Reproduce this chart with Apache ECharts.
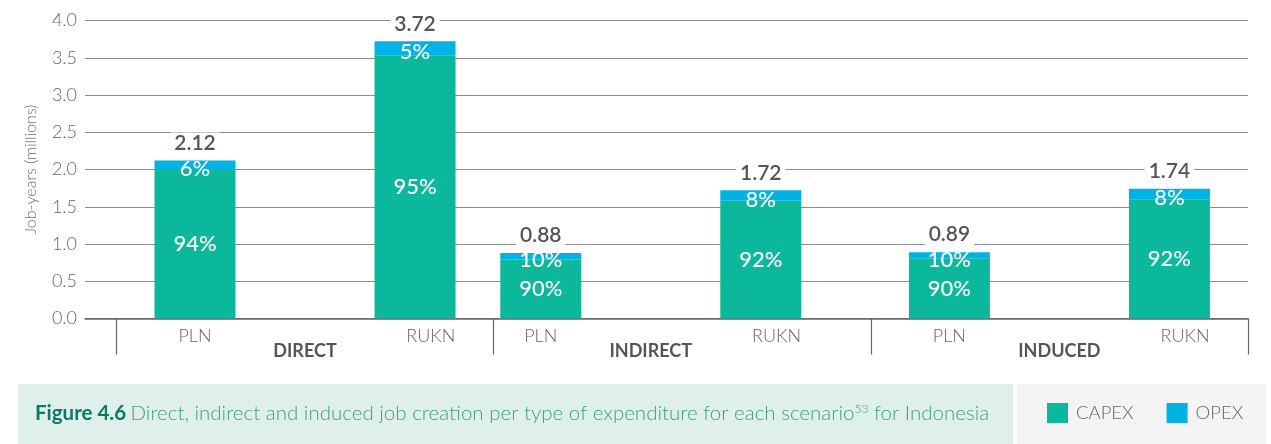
<!DOCTYPE html>
<html><head><meta charset="utf-8">
<script src="https://cdn.jsdelivr.net/npm/echarts@6/dist/echarts.min.js"></script>
<style>html,body{margin:0;padding:0;background:#fff}#c{width:1271px;height:444px}</style>
</head><body><div id="c"></div>
<script>
// ---- data ----
const scenarios = ['PLN', 'RUKN', 'PLN', 'RUKN', 'PLN', 'RUKN'];
const groups = ['DIRECT', 'INDIRECT', 'INDUCED'];
const capexValues = [1.993, 3.534, 0.792, 1.582, 0.801, 1.601];
const opexValues = [0.127, 0.186, 0.088, 0.138, 0.089, 0.139];
const totals = [2.12, 3.72, 0.88, 1.72, 0.89, 1.74];
const capexShare = ['94%', '95%', '90%', '92%', '90%', '92%'];
const opexShare = ['6%', '5%', '10%', '8%', '10%', '8%'];
const seriesNames = ['CAPEX', 'OPEX'];
const yAxisTitle = 'Job-years (millions)';

// ---- layout (slot positions on a fine category axis) ----
const SLOTS = 37;
const BAR_SLOT = [3, 10, 14, 21, 27, 34];
const GROUP_START_SLOT = [1, 13, 25];
const SHIFTED_LABEL_SLOT = [null, 10, null, 21, null, 34];
const GROUP_LABEL_SLOT = [6, 17, 30];

const FONT = 'Lato, "Noto Sans", sans-serif';
function blanks() { return new Array(SLOTS).fill(''); }
function spread(vals) { const a = new Array(SLOTS).fill('-'); BAR_SLOT.forEach((s, i) => a[s] = vals[i]); return a; }
function barIdx(p) { return BAR_SLOT.indexOf(p.dataIndex); }

const catA = blanks();
BAR_SLOT.forEach((s, i) => { if (SHIFTED_LABEL_SLOT[i] === null) catA[s] = scenarios[i]; });
const catB = blanks();
SHIFTED_LABEL_SLOT.forEach((s, i) => { if (s !== null) catB[s] = scenarios[i]; });
const catG = blanks();
GROUP_LABEL_SLOT.forEach((s, i) => catG[s] = groups[i]);

const chart = echarts.init(document.getElementById('c'), null, { renderer: 'canvas' });
const pctLabel = {
  show: true, color: '#fff', fontSize: 22, fontFamily: FONT, fontWeight: 500
};
chart.setOption({
  animation: false,
  textStyle: { fontFamily: FONT },
  graphic: [
    { type: 'rect', left: 18, top: 384, shape: { width: 995, height: 60 }, style: { fill: '#dff0eb' }, silent: true, z: -10 },
    { type: 'rect', left: 1017, top: 384, shape: { width: 249, height: 60 }, style: { fill: '#f4f4f4' }, silent: true, z: -10 }
  ],
  title: {
    left: 35, top: 400, padding: 0,
    text: '{b|Figure 4.6} {r|Direct, indirect and induced job creation per type of expenditure for each scenario}{s|53}{r| for Indonesia}',
    textStyle: {
      rich: {
        b: { fontFamily: FONT, fontWeight: 'bold', fontSize: 20.5, color: '#0b7a62', lineHeight: 26 },
        r: { fontFamily: FONT, fontWeight: 300, fontSize: 20.5, color: '#3f9c86', lineHeight: 26 },
        s: { fontFamily: FONT, fontWeight: 300, fontSize: 12, color: '#3f9c86', lineHeight: 26, verticalAlign: 'top', padding: [3, 0, 0, 0] }
      }
    }
  },
  legend: {
    data: seriesNames, left: 1047, top: 403, padding: 0, icon: 'rect', itemWidth: 21, itemHeight: 20, itemGap: 33,
    textStyle: { fontSize: 18.5, color: '#666', fontWeight: 300, fontFamily: FONT, padding: [0, 0, 0, 3] }
  },
  grid: [
    { left: 85, width: 1163, top: 20.5, height: 298, outerBoundsMode: 'none' },
    { left: 100.7, width: 1163, top: 20.5, height: 298, outerBoundsMode: 'none' }
  ],
  xAxis: [
    {
      type: 'category', gridIndex: 0, data: catA,
      axisLine: { lineStyle: { color: '#666', width: 1.5 } },
      axisTick: { show: true, length: 36, interval: (i) => GROUP_START_SLOT.includes(i), lineStyle: { color: '#666', width: 1.2 } },
      axisLabel: { interval: 0, margin: 9, fontSize: 18, color: '#666', fontWeight: 300, fontFamily: FONT }
    },
    {
      type: 'category', gridIndex: 1, data: catB, position: 'bottom',
      axisLine: { show: false }, axisTick: { show: false },
      axisLabel: { interval: 0, margin: 9, fontSize: 18, color: '#666', fontWeight: 300, fontFamily: FONT }
    },
    {
      type: 'category', gridIndex: 1, data: catG, position: 'bottom', offset: 0,
      axisLine: { show: false }, axisTick: { show: false },
      axisLabel: { interval: 0, margin: 24, fontSize: 18, color: '#555', fontWeight: 'bold', fontFamily: FONT }
    }
  ],
  yAxis: [
    {
      type: 'value', gridIndex: 0, min: 0, max: 4, interval: 0.5,
      name: yAxisTitle, nameLocation: 'middle', nameRotate: 90, nameGap: 46,
      nameTextStyle: { fontSize: 16, color: '#707070', fontWeight: 300, fontFamily: FONT },
      axisLine: { show: false }, axisTick: { show: false },
      axisLabel: { margin: 8, fontSize: 18, color: '#666', fontWeight: 300, fontFamily: FONT, formatter: v => v.toFixed(1) },
      splitLine: { lineStyle: { color: '#8c8c8c', width: 1.2 } }
    },
    { type: 'value', gridIndex: 1, min: 0, max: 4, show: false }
  ],
  series: [
    {
      name: 'CAPEX', type: 'bar', stack: 'jobs', xAxisIndex: 0, yAxisIndex: 0, barWidth: 81, barGap: '-100%',
      itemStyle: { color: '#0bb89b' }, data: spread(capexValues),
      label: Object.assign({ position: 'inside', formatter: p => capexShare[barIdx(p)] }, pctLabel)
    },
    {
      name: 'OPEX', type: 'bar', stack: 'jobs', xAxisIndex: 0, yAxisIndex: 0, barWidth: 81, barGap: '-100%',
      itemStyle: { color: '#00b3e3' }, data: spread(opexValues),
      label: Object.assign({ position: 'inside', offset: [0, 4], formatter: p => opexShare[barIdx(p)] }, pctLabel)
    },
    {
      name: 'Total', type: 'bar', xAxisIndex: 0, yAxisIndex: 0, barWidth: 81, barGap: '-100%',
      itemStyle: { color: 'rgba(0,0,0,0)' }, data: spread(totals), silent: true, z: 1,
      label: {
        show: true, position: 'top', distance: 7, fontSize: 21, color: '#555', fontWeight: 600, fontFamily: FONT,
        backgroundColor: '#fff', padding: [0, 4, 0, 4],
        formatter: p => totals[barIdx(p)].toFixed(2)
      }
    }
  ]
});
</script></body></html>
